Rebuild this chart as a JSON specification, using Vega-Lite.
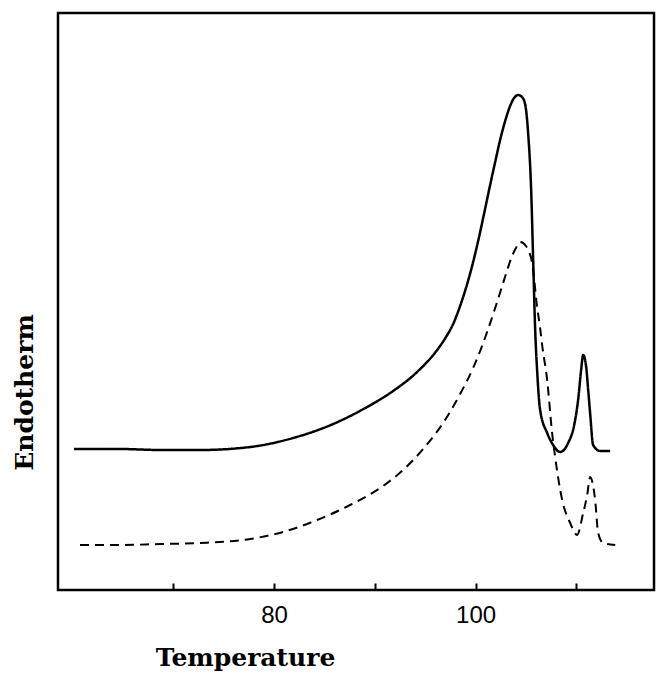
{
  "$schema": "https://vega.github.io/schema/vega-lite/v6.json",
  "width": 596,
  "height": 577,
  "autosize": {"type": "none"},
  "padding": {"left": 58, "top": 13, "right": 13, "bottom": 84},
  "background": "white",
  "config": {"view": {"stroke": "black", "strokeWidth": 2.5}},
  "data": {
    "values": [
      {"run": "solid", "T": 60.15, "E": 141},
      {"run": "solid", "T": 64.71, "E": 141},
      {"run": "solid", "T": 68.68, "E": 140},
      {"run": "solid", "T": 72.66, "E": 140},
      {"run": "solid", "T": 77.62, "E": 143},
      {"run": "solid", "T": 81.89, "E": 152},
      {"run": "solid", "T": 85.86, "E": 166},
      {"run": "solid", "T": 89.23, "E": 183},
      {"run": "solid", "T": 91.81, "E": 199},
      {"run": "solid", "T": 94.19, "E": 218},
      {"run": "solid", "T": 96.18, "E": 240},
      {"run": "solid", "T": 97.0, "E": 252},
      {"run": "solid", "T": 97.77, "E": 266},
      {"run": "solid", "T": 98.46, "E": 284},
      {"run": "solid", "T": 99.16, "E": 306},
      {"run": "solid", "T": 99.95, "E": 336},
      {"run": "solid", "T": 100.45, "E": 358},
      {"run": "solid", "T": 101.0, "E": 384},
      {"run": "solid", "T": 101.44, "E": 405},
      {"run": "solid", "T": 101.94, "E": 428},
      {"run": "solid", "T": 102.43, "E": 450},
      {"run": "solid", "T": 102.93, "E": 469},
      {"run": "solid", "T": 103.42, "E": 484},
      {"run": "solid", "T": 103.82, "E": 492},
      {"run": "solid", "T": 104.22, "E": 495},
      {"run": "solid", "T": 104.6, "E": 493},
      {"run": "solid", "T": 104.91, "E": 486},
      {"run": "solid", "T": 105.21, "E": 457},
      {"run": "solid", "T": 105.51, "E": 400},
      {"run": "solid", "T": 105.71, "E": 330},
      {"run": "solid", "T": 105.91, "E": 260},
      {"run": "solid", "T": 106.1, "E": 220},
      {"run": "solid", "T": 106.4, "E": 180},
      {"run": "solid", "T": 107.1, "E": 157},
      {"run": "solid", "T": 107.69, "E": 145},
      {"run": "solid", "T": 108.39, "E": 138},
      {"run": "solid", "T": 109.18, "E": 147},
      {"run": "solid", "T": 109.78, "E": 165},
      {"run": "solid", "T": 110.17, "E": 190},
      {"run": "solid", "T": 110.47, "E": 220},
      {"run": "solid", "T": 110.67, "E": 235},
      {"run": "solid", "T": 110.97, "E": 223},
      {"run": "solid", "T": 111.17, "E": 200},
      {"run": "solid", "T": 111.36, "E": 177},
      {"run": "solid", "T": 111.66, "E": 145},
      {"run": "solid", "T": 112.36, "E": 139},
      {"run": "solid", "T": 113.35, "E": 139},
      {"run": "dashed", "T": 60.74, "E": 45},
      {"run": "dashed", "T": 64.71, "E": 45},
      {"run": "dashed", "T": 68.68, "E": 46},
      {"run": "dashed", "T": 72.66, "E": 47},
      {"run": "dashed", "T": 77.62, "E": 51},
      {"run": "dashed", "T": 80.89, "E": 58},
      {"run": "dashed", "T": 84.27, "E": 70},
      {"run": "dashed", "T": 87.54, "E": 85},
      {"run": "dashed", "T": 90.82, "E": 104},
      {"run": "dashed", "T": 92.8, "E": 120},
      {"run": "dashed", "T": 94.79, "E": 141},
      {"run": "dashed", "T": 96.77, "E": 167},
      {"run": "dashed", "T": 98.46, "E": 196},
      {"run": "dashed", "T": 99.75, "E": 222},
      {"run": "dashed", "T": 100.45, "E": 239},
      {"run": "dashed", "T": 101.14, "E": 258},
      {"run": "dashed", "T": 101.94, "E": 282},
      {"run": "dashed", "T": 102.73, "E": 307},
      {"run": "dashed", "T": 103.2, "E": 322},
      {"run": "dashed", "T": 103.62, "E": 334},
      {"run": "dashed", "T": 104.0, "E": 342},
      {"run": "dashed", "T": 104.42, "E": 348},
      {"run": "dashed", "T": 105.0, "E": 344},
      {"run": "dashed", "T": 105.21, "E": 340},
      {"run": "dashed", "T": 105.61, "E": 327},
      {"run": "dashed", "T": 106.1, "E": 283},
      {"run": "dashed", "T": 106.4, "E": 262},
      {"run": "dashed", "T": 106.6, "E": 245},
      {"run": "dashed", "T": 107.1, "E": 210},
      {"run": "dashed", "T": 107.59, "E": 157},
      {"run": "dashed", "T": 107.89, "E": 133},
      {"run": "dashed", "T": 108.59, "E": 90},
      {"run": "dashed", "T": 109.38, "E": 67},
      {"run": "dashed", "T": 110.07, "E": 55},
      {"run": "dashed", "T": 110.67, "E": 77},
      {"run": "dashed", "T": 111.07, "E": 95},
      {"run": "dashed", "T": 111.36, "E": 113},
      {"run": "dashed", "T": 111.86, "E": 90},
      {"run": "dashed", "T": 112.16, "E": 57},
      {"run": "dashed", "T": 112.66, "E": 47},
      {"run": "dashed", "T": 113.85, "E": 45}
    ]
  },
  "mark": {"type": "line", "interpolate": "monotone", "color": "black"},
  "encoding": {
    "x": {
      "field": "T",
      "type": "quantitative",
      "scale": {"domain": [58.56, 117.7], "nice": false, "zero": false},
      "axis": {
        "values": [70, 80, 90, 100, 110],
        "domain": false,
        "grid": false,
        "tickSize": -7,
        "tickWidth": 2,
        "tickColor": "black",
        "labelExpr": "datum.value == 80 || datum.value == 100 ? datum.label : ''",
        "labelFont": "Liberation Sans",
        "labelFontSize": 24,
        "labelColor": "black",
        "labelPadding": 20,
        "title": "Temperature",
        "titleFont": "DejaVu Serif",
        "titleFontSize": 25,
        "titleFontWeight": "bold",
        "titleColor": "black",
        "titleX": 187,
        "titleY": 75,
        "titleAlign": "center",
        "titleBaseline": "alphabetic"
      }
    },
    "y": {
      "field": "E",
      "type": "quantitative",
      "scale": {"domain": [0, 577], "nice": false, "zero": false},
      "axis": {
        "domain": false,
        "ticks": false,
        "labels": false,
        "grid": false,
        "title": "Endotherm",
        "titleFont": "DejaVu Serif",
        "titleFontSize": 25,
        "titleFontWeight": "bold",
        "titleColor": "black",
        "titleAngle": -90,
        "titleX": -34,
        "titleY": 379,
        "titleAlign": "center",
        "titleBaseline": "middle"
      }
    },
    "strokeDash": {
      "field": "run",
      "type": "nominal",
      "scale": {"domain": ["solid", "dashed"], "range": [[1, 0], [9, 6]]},
      "legend": null
    },
    "strokeWidth": {
      "field": "run",
      "type": "nominal",
      "scale": {"domain": ["solid", "dashed"], "range": [2.5, 2]},
      "legend": null
    }
  }
}
